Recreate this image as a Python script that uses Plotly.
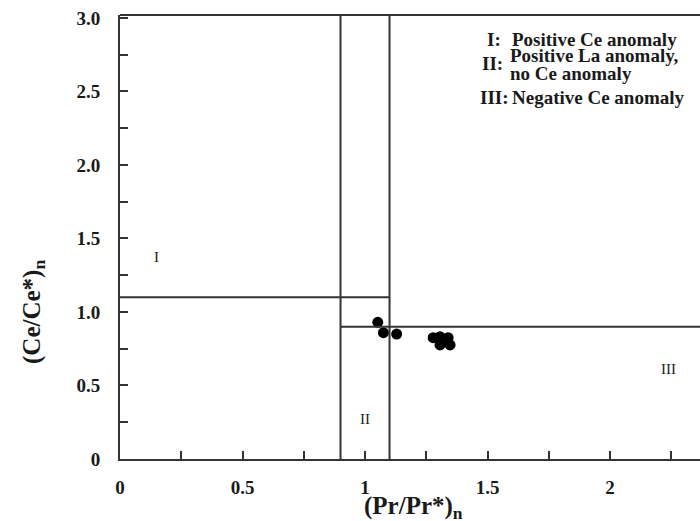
import plotly.graph_objects as go

# Data
pr_values = [1.052, 1.075, 1.129, 1.278, 1.306, 1.339, 1.306, 1.347, 1.327]
ce_values = [0.930, 0.859, 0.850, 0.825, 0.832, 0.825, 0.776, 0.776, 0.810]

# Boundaries of the fields
pr_low, pr_high = 0.9, 1.1
ce_low, ce_high = 0.9, 1.1

x_range = [0, 2.367]
y_range = [0, 3.02]

x_tickvals = [0, 0.5, 1, 1.5, 2]
x_ticktext = ["0", "0.5", "1", "1.5", "2"]
y_tickvals = [0, 0.5, 1.0, 1.5, 2.0, 2.5, 3.0]
y_ticktext = ["0", "0.5", "1.0", "1.5", "2.0", "2.5", "3.0"]

region_labels = ["I", "II", "III"]
region_x = [0.147, 1.0, 2.237]
region_y = [1.374, 0.272, 0.612]

FONT = "Liberation Serif"
LINE = "#333333"
TXT = "#1a1a1a"

fig = go.Figure()
fig.add_trace(go.Scatter(x=pr_values, y=ce_values, mode="markers",
                         marker=dict(color="black", size=11), showlegend=False))

# boundary lines
for xv in (pr_low, pr_high):
    fig.add_shape(type="line", x0=xv, x1=xv, y0=0, y1=y_range[1], xref="x", yref="y",
                  line=dict(color=LINE, width=2))
fig.add_shape(type="line", x0=0, x1=pr_high, y0=ce_high, y1=ce_high, xref="x", yref="y",
              line=dict(color=LINE, width=2))
fig.add_shape(type="line", x0=pr_low, x1=x_range[1], y0=ce_low, y1=ce_low, xref="x", yref="y",
              line=dict(color=LINE, width=2))
# top frame line
fig.add_shape(type="line", x0=0, x1=1, y0=1, y1=1, xref="paper", yref="paper",
              line=dict(color=LINE, width=2))

for lab, lx, ly in zip(region_labels, region_x, region_y):
    fig.add_annotation(x=lx, y=ly, xref="x", yref="y", text=lab, showarrow=False,
                       font=dict(family=FONT, size=15, color="#222"))

# legend-like text block (pixel positions converted to paper coords)
W, H = 700, 521
L, R, T, B = 120, 0, 15, 62
pw, ph = W - L - R, H - T - B


def px(x):
    return (x - L) / pw


def py(y):
    return (H - B - y) / ph


legend_font = dict(family=FONT, size=19, color=TXT)


def note(x, y, text):
    fig.add_annotation(x=px(x), y=py(y), xref="paper", yref="paper", xanchor="left",
                       yanchor="middle", text=text, showarrow=False, font=legend_font, borderpad=0)


note(486, 39, "<b>I:</b>")
note(511, 39, "<b>Positive Ce anomaly</b>")
note(481, 64, "<b>II:</b>")
note(509, 56, "<b>Positive La anomaly,</b>")
note(509, 73, "<b>no Ce anomaly</b>")
note(479, 98, "<b>III:</b>")
note(511, 98, "<b>Negative Ce anomaly</b>")

# axis titles
fig.add_annotation(x=px(413), y=py(507), xref="paper", yref="paper", xanchor="center", yanchor="middle",
                   text="<b>(Pr/Pr*)<sub>n</sub></b>", showarrow=False,
                   font=dict(family=FONT, size=25, color=TXT))
fig.add_annotation(x=px(33), y=py(312), xref="paper", yref="paper", xanchor="center", yanchor="middle",
                   text="<b>(Ce/Ce*)<sub>n</sub></b>", showarrow=False, textangle=-90,
                   font=dict(family=FONT, size=25, color=TXT))

fig.update_layout(
    width=W, height=H,
    margin=dict(l=L, r=R, t=T, b=B),
    paper_bgcolor="white", plot_bgcolor="white",
    xaxis=dict(range=x_range, showgrid=False, zeroline=False, showline=True, linecolor=LINE, linewidth=2,
               ticks="inside", ticklen=8, tickwidth=2, tickcolor=LINE,
               tickvals=x_tickvals, ticktext=["<b>%s</b>" % t for t in x_ticktext], ticklabelstandoff=10,
               tickfont=dict(family=FONT, size=19, color=TXT),
               minor=dict(dtick=0.25, tick0=0, ticks="inside", ticklen=8, tickwidth=2, tickcolor=LINE)),
    yaxis=dict(range=y_range, showgrid=False, zeroline=False, showline=True, linecolor=LINE, linewidth=2,
               ticks="inside", ticklen=8, tickwidth=2, tickcolor=LINE,
               tickvals=y_tickvals, ticktext=["<b>%s</b>" % t for t in y_ticktext], ticklabelstandoff=14,
               tickfont=dict(family=FONT, size=19, color=TXT),
               minor=dict(dtick=0.25, tick0=0, ticks="inside", ticklen=8, tickwidth=2, tickcolor=LINE)),
)

fig.write_html("out.html")
